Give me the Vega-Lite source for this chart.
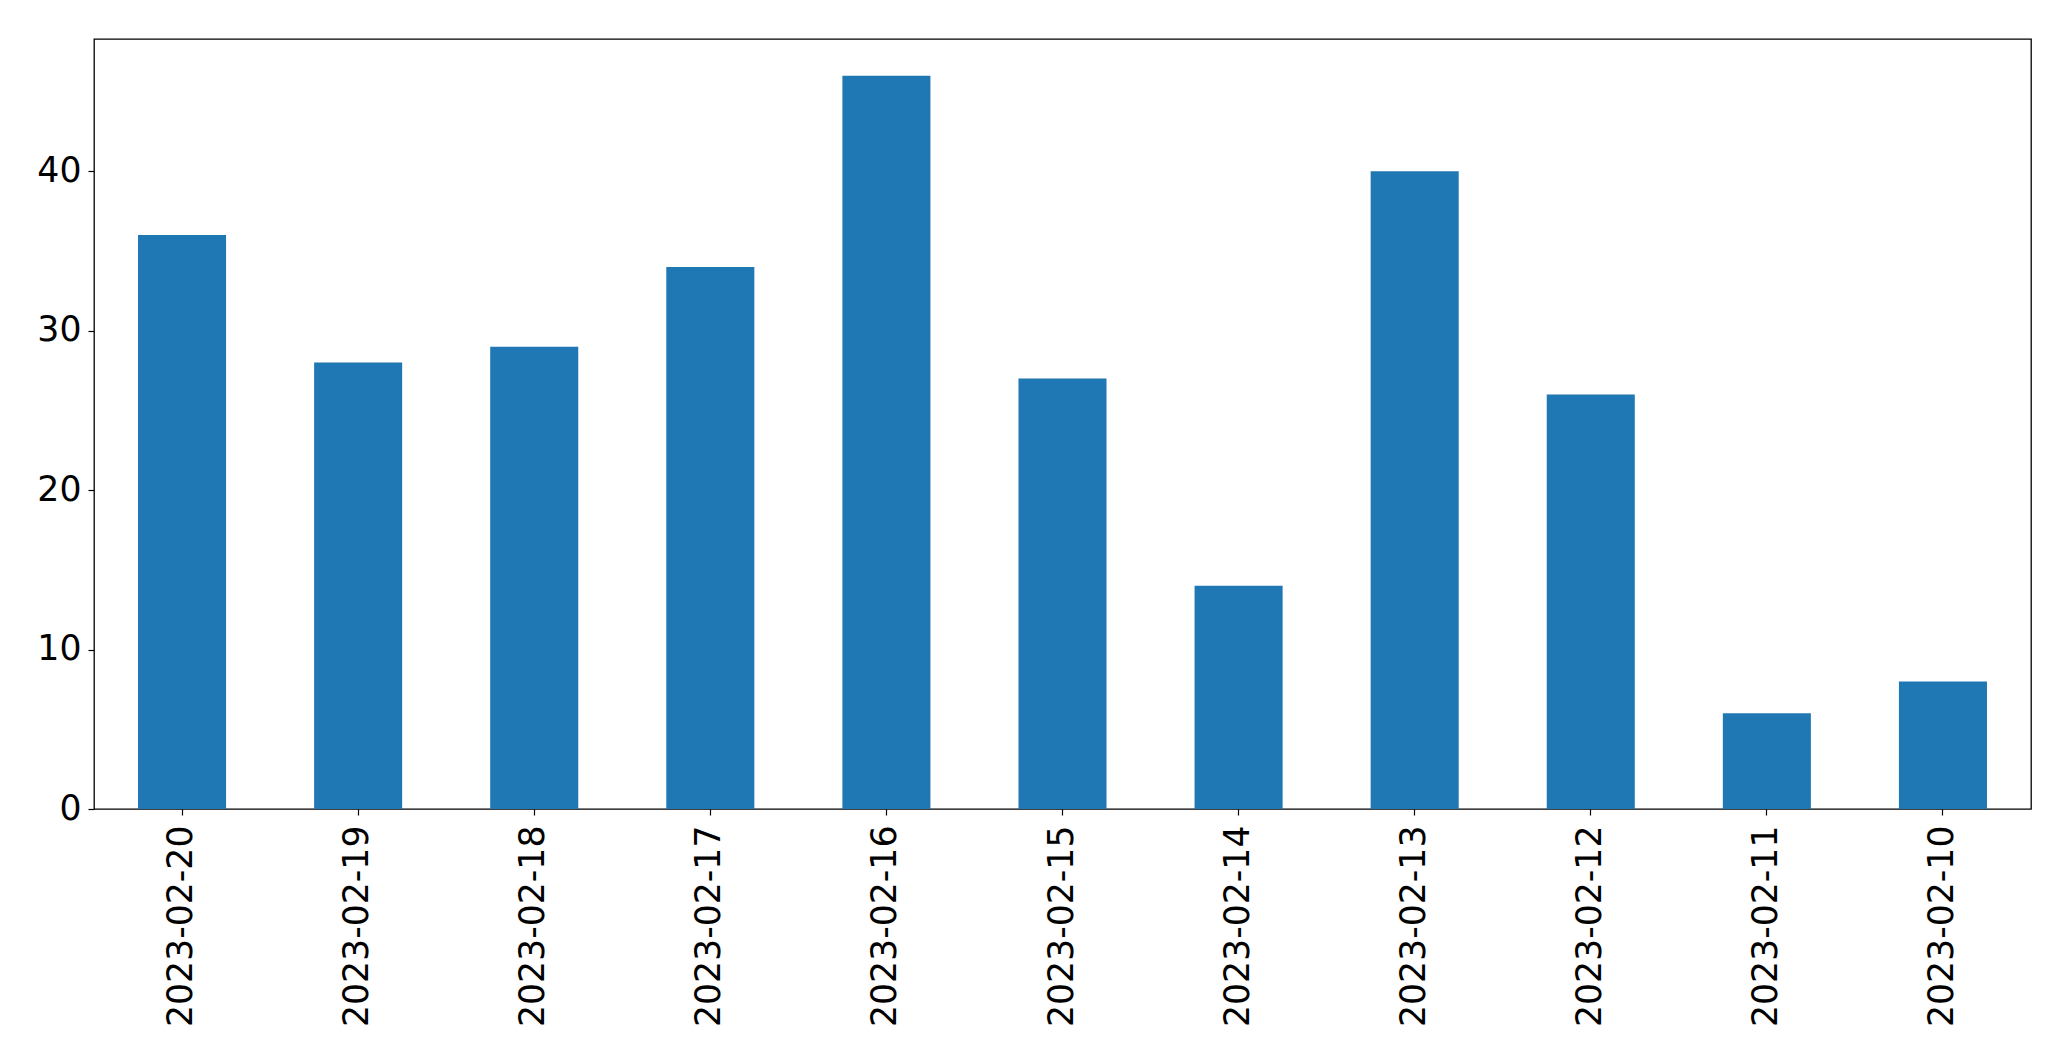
{
  "$schema": "https://vega.github.io/schema/vega-lite/v6.json",
  "width": 1937,
  "height": 770,
  "autosize": {"type": "none"},
  "padding": {"left": 94, "top": 39, "right": 40, "bottom": 252},
  "background": "white",
  "config": {
    "view": {"stroke": "black", "strokeWidth": 1.3},
    "font": "DejaVu Sans",
    "axis": {
      "grid": false,
      "domain": false,
      "tickColor": "black",
      "tickSize": 6,
      "tickWidth": 1.2,
      "labelColor": "black",
      "labelFont": "DejaVu Sans",
      "labelFontSize": 34.7,
      "labelLimit": 0,
      "title": null
    }
  },
  "data": {
    "values": [
      {"date": "2023-02-20", "count": 36},
      {"date": "2023-02-19", "count": 28},
      {"date": "2023-02-18", "count": 29},
      {"date": "2023-02-17", "count": 34},
      {"date": "2023-02-16", "count": 46},
      {"date": "2023-02-15", "count": 27},
      {"date": "2023-02-14", "count": 14},
      {"date": "2023-02-13", "count": 40},
      {"date": "2023-02-12", "count": 26},
      {"date": "2023-02-11", "count": 6},
      {"date": "2023-02-10", "count": 8}
    ]
  },
  "mark": {"type": "bar", "color": "#1f77b4"},
  "encoding": {
    "x": {
      "field": "date",
      "type": "nominal",
      "sort": null,
      "scale": {"paddingInner": 0.5, "paddingOuter": 0.25},
      "axis": {"labelAngle": -90, "labelAlign": "right", "labelBaseline": "middle", "labelPadding": 10}
    },
    "y": {
      "field": "count",
      "type": "quantitative",
      "scale": {"domain": [0, 48.3], "nice": false, "zero": true},
      "axis": {"values": [0, 10, 20, 30, 40], "labelPadding": 7}
    }
  }
}
